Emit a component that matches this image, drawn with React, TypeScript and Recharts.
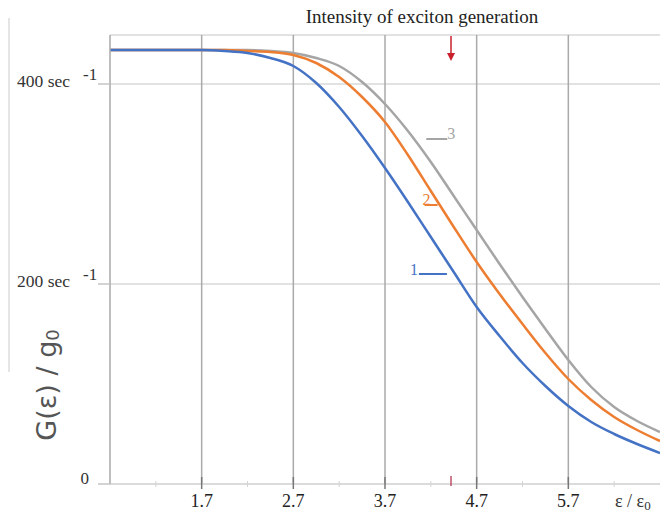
import React from 'react';
import { LineChart, Line, XAxis, YAxis, CartesianGrid, ReferenceLine, ReferenceDot } from 'recharts';

// epsilon / epsilon0
const xValues = [0.7, 1.2, 1.7, 1.95, 2.2, 2.45, 2.7, 2.95, 3.2, 3.45, 3.7, 3.95, 4.2, 4.45, 4.7, 4.95, 5.2, 5.45, 5.7, 5.95, 6.2, 6.45, 6.7];
// G(eps)/g0 for curves 1, 2, 3
const curve1 = [434, 434, 434, 433, 431, 426, 418, 401, 377, 348, 316, 282, 247, 212, 177, 148, 121, 98, 78, 62, 50, 40, 31];
const curve2 = [434, 434, 434, 434, 433, 432, 429, 421, 407, 387, 362, 329, 293, 257, 222, 190, 160, 131, 105, 84, 67, 54, 43];
const curve3 = [434, 434, 434, 434, 434, 433, 431, 426, 418, 402, 380, 353, 322, 288, 254, 220, 187, 155, 124, 97, 77, 63, 52];

const majorTicks = [1.7, 2.7, 3.7, 4.7, 5.7];
const minorTicks = [1.2, 2.2, 3.2, 4.2, 5.2, 6.2];
const yTicks = [0, 200, 400];
const xDomain = [0.7, 6.7];
const yDomain = [0, 449];

const curveLabels = ['1', '2', '3'];
const curveLabelX = [4.07, 4.11, 4.15];
const curveLabelY = [210, 279, 345];

const excitonEnergy = 4.42;
const titleText = 'Intensity of exciton generation';

const colors = ['#4472C4', '#ED7D31', '#A5A5A5'];

const data = xValues.map((x, i) => ({ x, c1: curve1[i], c2: curve2[i], c3: curve3[i] }));
const allXTicks = [...majorTicks, ...minorTicks].sort((a, b) => a - b);

const SERIF = '"Liberation Serif", "Times New Roman", serif';

const XTick = (props: any) => {
  const { x, y, payload } = props;
  const v = payload.value;
  const major = majorTicks.includes(v);
  if (!major) {
    return <line x1={x} x2={x} y1={y - 3} y2={y + 3} stroke="#d4d4d4" strokeWidth={1} />;
  }
  return (
    <g>
      <line x1={x} x2={x} y1={y - 7} y2={y + 5} stroke="#777" strokeWidth={1.5} />
      <text x={x} y={y + 23} textAnchor="middle" fontFamily={SERIF} fontSize={18} fill="#222">
        {v.toFixed(1)}
      </text>
    </g>
  );
};

const YTick = (props: any) => {
  const { x, y, payload } = props;
  const v = payload.value;
  return (
    <g>
      <line x1={x - 12} x2={x} y1={y} y2={y} stroke="#c4c4c4" strokeWidth={1.5} />
      {v === 0 ? (
        <text x={x - 21} y={y} textAnchor="end" fontFamily={SERIF} fontSize={17} fill="#333">0</text>
      ) : (
        <g>
          <text x={x - 40} y={y + 3} textAnchor="end" fontFamily={SERIF} fontSize={17.5} fill="#333">{`${v} sec`}</text>
          <text x={x - 27} y={y - 4} textAnchor="start" fontFamily={SERIF} fontSize={17} fill="#333">-1</text>
        </g>
      )}
    </g>
  );
};

const YAxisLabel = (p: any) => {
  const vb = p.viewBox || { x: 0, y: 35, width: 110, height: 449 };
  const cx = vb.x + 48;
  const cy = vb.y + 350;
  return (
    <g>
      <line x1={vb.x + 9} x2={vb.x + 9} y1={vb.y - 17} y2={vb.y + 337} stroke="#dcdcdc" strokeWidth={1.5} />
      <text
        x={cx}
        y={cy}
        transform={`rotate(-90 ${cx} ${cy})`}
        textAnchor="middle"
        dominantBaseline="middle"
        fontFamily='"DejaVu Sans", sans-serif'
        fontSize={27}
        fill="#555"
      >
        <tspan>G(ε) / g</tspan>
        <tspan fontSize={18} dy={6}>0</tspan>
      </text>
    </g>
  );
};

const XAxisLabel = (p: any) => {
  const vb = p.viewBox || { x: 110, y: 484, width: 550, height: 30 };
  return (
    <text x={vb.x + vb.width - 45} y={vb.y + 23} fontFamily={SERIF} fontSize={18} fill="#333">
      <tspan>ε / ε</tspan>
      <tspan fontSize={13} dy={3}>0</tspan>
    </text>
  );
};

const makeCurveLabel = (i: number) => (p: any) => {
  const { cx, cy } = p;
  const color = colors[i];
  const style = { fontFamily: SERIF, fontSize: 16, fill: color } as any;
  if (i === 0) {
    return (
      <g>
        <text x={cx - 1} y={cy + 1} textAnchor="end" {...style}>{curveLabels[i]}</text>
        <line x1={cx} x2={cx + 28} y1={cy} y2={cy} stroke={color} strokeWidth={2} />
      </g>
    );
  }
  if (i === 1) {
    return (
      <g>
        <text x={cx} y={cy} textAnchor="start" {...style}>{curveLabels[i]}</text>
        <line x1={cx + 2} x2={cx + 15} y1={cy} y2={cy} stroke={color} strokeWidth={2} />
      </g>
    );
  }
  return (
    <g>
      <line x1={cx} x2={cx + 21} y1={cy} y2={cy} stroke={color} strokeWidth={2} />
      <text x={cx + 21} y={cy} textAnchor="start" {...style}>{curveLabels[i]}</text>
    </g>
  );
};

const ArrowShape = (p: any) => {
  const { cx, cy } = p;
  return (
    <g>
      <text x={cx - 29} y={cy - 12} textAnchor="middle" fontFamily={SERIF} fontSize={19} fill="#222">{titleText}</text>
      <line x1={cx} x2={cx} y1={cy + 1} y2={cy + 19} stroke="#c8202c" strokeWidth={1.5} />
      <polygon points={`${cx - 4},${cy + 18} ${cx + 4},${cy + 18} ${cx},${cy + 26}`} fill="#c8202c" />
    </g>
  );
};

const RedTick = (p: any) => {
  const { cx, cy } = p;
  return <line x1={cx} x2={cx} y1={cy - 8} y2={cy + 2} stroke="#c0506a" strokeWidth={1.5} />;
};

export default function App() {
  return (
    <div style={{ position: 'absolute', left: 0, top: 0, width: 660, height: 514, background: '#fff' }}>
      <LineChart width={660} height={514} data={data} margin={{ top: 35, right: 0, bottom: 0, left: 0 }}>
        <CartesianGrid vertical={false} stroke="#e2e2e2" strokeWidth={2} />
        <XAxis
          dataKey="x"
          type="number"
          domain={xDomain}
          ticks={allXTicks}
          interval={0}
          height={30}
          tickSize={0}
          tickMargin={0}
          tickLine={false}
          tick={<XTick />}
          axisLine={{ stroke: '#d8d8d8', strokeWidth: 1.5 }}
          label={{ content: (p: any) => <XAxisLabel {...p} /> }}
        />
        <YAxis
          type="number"
          domain={yDomain}
          ticks={yTicks}
          interval={0}
          width={110}
          tickSize={0}
          tickMargin={0}
          tickLine={false}
          tick={<YTick />}
          axisLine={{ stroke: '#a8a8a8', strokeWidth: 1.5 }}
          label={{ content: (p: any) => <YAxisLabel {...p} /> }}
        />
        {majorTicks.map((t) => (
          <ReferenceLine key={t} x={t} stroke="#aaaaaa" strokeWidth={1.5} />
        ))}
        <Line type="monotone" dataKey="c3" stroke={colors[2]} strokeWidth={2.5} dot={false} isAnimationActive={false} />
        <Line type="monotone" dataKey="c2" stroke={colors[1]} strokeWidth={2.5} dot={false} isAnimationActive={false} />
        <Line type="monotone" dataKey="c1" stroke={colors[0]} strokeWidth={2.5} dot={false} isAnimationActive={false} />
        {curveLabels.map((l, i) => (
          <ReferenceDot key={l} x={curveLabelX[i]} y={curveLabelY[i]} r={0} ifOverflow="visible" shape={makeCurveLabel(i)} />
        ))}
        <ReferenceDot x={excitonEnergy} y={yDomain[1]} r={0} ifOverflow="visible" shape={ArrowShape} />
        <ReferenceDot x={excitonEnergy} y={0} r={0} ifOverflow="visible" shape={RedTick} />
      </LineChart>
    </div>
  );
}
